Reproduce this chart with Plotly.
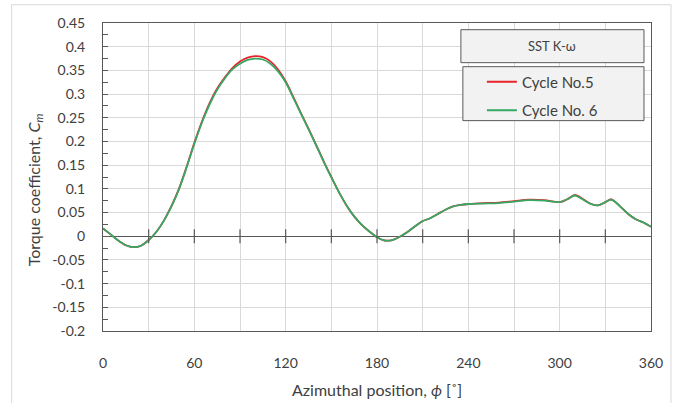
import plotly.graph_objects as go

# ---------------- data ----------------
phi = [0, 5, 10, 15, 20, 25, 30, 35, 40, 45, 50, 55, 60, 65, 70, 75, 80, 85, 90, 95,
       100, 105, 110, 115, 120, 125, 130, 135, 140, 145, 150, 155, 160, 165, 170, 175,
       180, 185, 190, 195, 200, 205, 210, 215, 220, 225, 230, 235, 240, 250, 260, 270,
       280, 290, 300, 305, 310, 315, 320, 325, 330, 334, 340, 345, 350, 355, 360]

cycle6 = [0.017, 0.004, -0.009, -0.019, -0.023, -0.020, -0.008, 0.009, 0.033, 0.063,
          0.100, 0.146, 0.195, 0.240, 0.278, 0.309, 0.333, 0.352, 0.364, 0.372,
          0.375, 0.373, 0.364, 0.348, 0.325, 0.292, 0.259, 0.226, 0.192, 0.157,
          0.124, 0.093, 0.065, 0.042, 0.024, 0.010, -0.002, -0.009, -0.008, -0.001,
          0.009, 0.021, 0.032, 0.038, 0.047, 0.056, 0.063, 0.066, 0.068, 0.069,
          0.070, 0.073, 0.076, 0.075, 0.072, 0.078, 0.086, 0.078, 0.069, 0.065,
          0.072, 0.077, 0.062, 0.047, 0.036, 0.029, 0.020]

cycle5 = [0.016, 0.004, -0.009, -0.019, -0.023, -0.020, -0.008, 0.009, 0.033, 0.064,
          0.101, 0.147, 0.197, 0.242, 0.281, 0.312, 0.335, 0.355, 0.369, 0.377,
          0.380, 0.378, 0.369, 0.352, 0.327, 0.294, 0.260, 0.227, 0.193, 0.158,
          0.125, 0.093, 0.065, 0.042, 0.024, 0.010, -0.002, -0.009, -0.008, -0.001,
          0.009, 0.021, 0.032, 0.038, 0.047, 0.056, 0.063, 0.066, 0.068, 0.070,
          0.071, 0.074, 0.077, 0.076, 0.072, 0.078, 0.087, 0.079, 0.069, 0.065,
          0.072, 0.078, 0.062, 0.047, 0.036, 0.029, 0.020]

x_tick_vals = [0, 60, 120, 180, 240, 300, 360]
zero_line_ticks = list(range(30, 360, 30))
y_tick_vals = [-0.2, -0.15, -0.1, -0.05, 0, 0.05, 0.1, 0.15, 0.2, 0.25, 0.3, 0.35, 0.4, 0.45]
y_tick_text = ["-0.2", "-0.15", "-0.1", "-0.05", "0", "0.05", "0.1", "0.15", "0.2",
               "0.25", "0.3", "0.35", "0.4", "0.45"]

series_names = ["Cycle No.5", "Cycle No. 6"]
legend_title = "SST K-ω"

# ---------------- figure ----------------
FONT = "Lato"
AX = "#595959"
GRID = "#d9d9d9"
TXT = "#404040"

fig = go.Figure()
fig.add_trace(go.Scatter(x=phi, y=cycle5, mode="lines", name=series_names[0], legendgroup="a",
                         line=dict(color="#E8242A", width=1.8, shape="spline", smoothing=0.9)))
fig.add_trace(go.Scatter(x=phi, y=cycle6, mode="lines", name=series_names[1], legendgroup="b",
                         line=dict(color="#35A865", width=1.8, shape="spline", smoothing=0.9)))
# tick marks crossing the zero line
fig.add_trace(go.Scatter(x=zero_line_ticks, y=[0] * len(zero_line_ticks), mode="markers",
                         marker=dict(symbol="line-ns", size=10, line=dict(color=AX, width=1.2)),
                         showlegend=False, hoverinfo="skip"))

fig.update_layout(
    width=678, height=403,
    margin=dict(l=103, r=27, t=23, b=72),
    paper_bgcolor="white", plot_bgcolor="white",
    font=dict(family=FONT, color=TXT, size=14),
    showlegend=True,
    legend=dict(x=0.6914, y=0.862, xanchor="left", yanchor="top",
                bgcolor="rgba(0,0,0,0)", borderwidth=0, tracegroupgap=6,
                font=dict(family=FONT, size=15, color=TXT), itemwidth=30),
)

fig.update_xaxes(
    range=[0, 360], tickvals=x_tick_vals, showgrid=True, gridcolor=GRID, gridwidth=1,
    minor=dict(dtick=30, tick0=0, showgrid=True, gridcolor=GRID, gridwidth=1),
    showline=True, linecolor=AX, linewidth=1, mirror=True,
    ticks="outside", ticklen=19, tickcolor="rgba(0,0,0,0)",
    tickfont=dict(size=14, color=TXT), zeroline=False,
)
fig.update_yaxes(
    range=[-0.2, 0.45], tickvals=y_tick_vals, ticktext=y_tick_text,
    showgrid=True, gridcolor=GRID, gridwidth=1,
    ticks="inside", ticklen=5, tickcolor=AX,
    minor=dict(dtick=0.025, tick0=0, ticks="inside", ticklen=5, tickcolor=AX, showgrid=False),
    showline=True, linecolor=AX, linewidth=1, mirror=True,
    zeroline=True, zerolinecolor=AX, zerolinewidth=1.2,
    tickfont=dict(size=14, color=TXT), ticklabelstandoff=14,
)

# outer chart frame (left, top, right edges)
fig.add_shape(type="line", xref="paper", yref="paper", x0=-0.1667, x1=-0.1667, y0=-0.3, y1=1.0594,
              line=dict(color=GRID, width=1), layer="below")
fig.add_shape(type="line", xref="paper", yref="paper", x0=-0.1667, x1=1.0365, y0=1.0594, y1=1.0594,
              line=dict(color=GRID, width=1), layer="below")
fig.add_shape(type="line", xref="paper", yref="paper", x0=1.0365, x1=1.0365, y0=-0.3, y1=1.0594,
              line=dict(color=GRID, width=1), layer="below")
# legend title box
fig.add_shape(type="rect", xref="paper", yref="paper", x0=0.6531, x1=0.9872, y0=0.8712, y1=0.9783,
              line=dict(color=AX, width=1), fillcolor="#f2f2f2", layer="above")
# legend items box
fig.add_shape(type="rect", xref="paper", yref="paper", x0=0.6567, x1=0.9872, y0=0.683, y1=0.8582,
              line=dict(color=AX, width=1), fillcolor="#f2f2f2", layer="above")

fig.add_annotation(text=legend_title, xref="paper", yref="paper", x=0.8202, y=0.9247,
                   showarrow=False, font=dict(family=FONT, size=13, color=TXT),
                   xanchor="center", yanchor="middle")

# axis titles
fig.add_annotation(text="Azimuthal position, <i>ϕ</i> [˚]", xref="paper", yref="paper",
                   x=0.5, y=-0.1885, showarrow=False, xanchor="center", yanchor="middle",
                   font=dict(family=FONT, size=16, color=TXT))
fig.add_annotation(text="Torque coefficient, <i>C</i><sub><i>m</i></sub>", xref="paper", yref="paper",
                   x=-0.1247, y=0.459, showarrow=False, textangle=-90,
                   xanchor="center", yanchor="middle",
                   font=dict(family=FONT, size=16, color=TXT))

fig.write_html("out.html")
